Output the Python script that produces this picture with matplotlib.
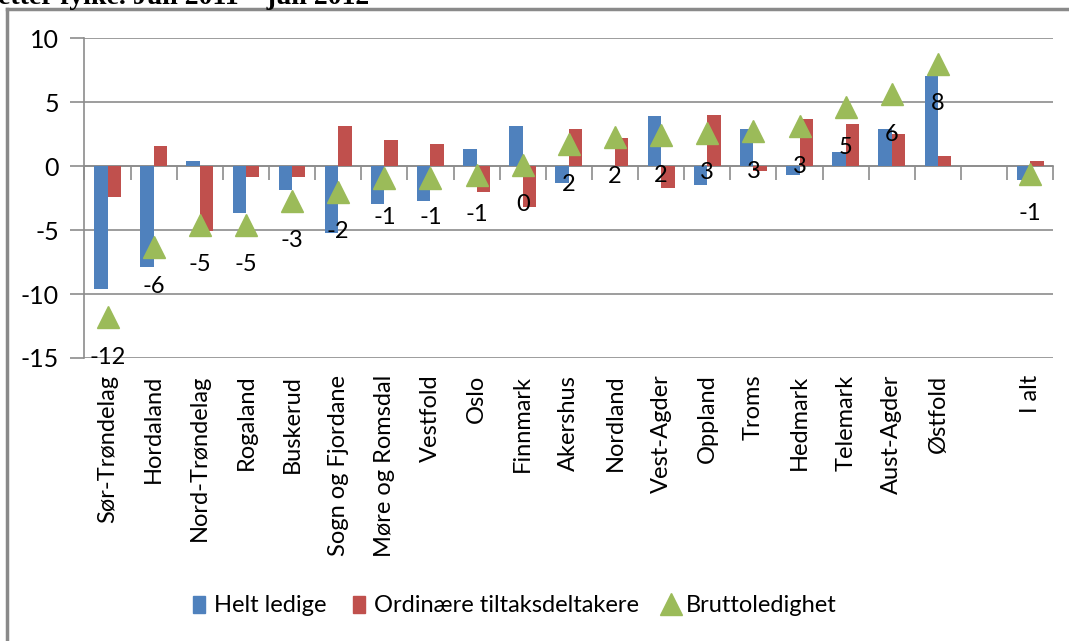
import matplotlib
matplotlib.use("Agg")
import matplotlib.pyplot as plt
from matplotlib.lines import Line2D
from matplotlib.patches import Patch
import numpy as np

plt.rcParams["font.family"] = ["Lato", "DejaVu Sans"]

fylker = ["Sør-Trøndelag", "Hordaland", "Nord-Trøndelag", "Rogaland", "Buskerud",
          "Sogn og Fjordane", "Møre og Romsdal", "Vestfold", "Oslo", "Finnmark",
          "Akershus", "Nordland", "Vest-Agder", "Oppland", "Troms", "Hedmark",
          "Telemark", "Aust-Agder", "Østfold", "", "I alt"]
helt_ledige = [-9.6, -7.9, 0.4, -3.7, -1.85, -5.2, -3.0, -2.7, 1.3, 3.1,
               -1.3, 0.0, 3.9, -1.45, 2.9, -0.7, 1.1, 2.9, 7.0, np.nan, -1.1]
tiltaksdeltakere = [-2.4, 1.6, -5.1, -0.85, -0.85, 3.1, 2.0, 1.7, -2.0, -3.2,
                    2.9, 2.2, -1.7, 4.0, -0.4, 3.7, 3.3, 2.5, 0.8, np.nan, 0.4]
bruttoledighet = [-11.8, -6.3, -4.6, -4.6, -2.7, -2.0, -0.9, -0.9, -0.7, 0.1,
                  1.7, 2.3, 2.4, 2.6, 2.7, 3.1, 4.6, 5.6, 8.0, np.nan, -0.6]

BLUE = "#4F81BD"
RED = "#C0504D"
GREEN = "#9BBB59"
GRID = "#8c8c8c"

fig = plt.figure(figsize=(10.69, 6.41), dpi=100)
ax = fig.add_axes([0.079, 0.4415, 0.9063, 0.4992])

x = np.arange(len(fylker))
w = 0.29
ax.bar(x - w / 2, helt_ledige, w, color=BLUE, zorder=3)
ax.bar(x + w / 2, tiltaksdeltakere, w, color=RED, zorder=3)
ax.plot(x, bruttoledighet, "^", color=GREEN, ms=16.5, mec=GREEN, zorder=4)

for xi, v in zip(x, bruttoledighet):
    if np.isnan(v):
        continue
    ax.annotate(f"{v:.0f}", (xi, v), xytext=(0, -40), textcoords="offset pixels",
                ha="center", va="center", fontsize=17, zorder=5)

ax.set_xlim(-0.5, len(fylker) - 0.5)
ax.set_ylim(-15, 10)
ax.set_yticks([-15, -10, -5, 0, 5, 10])
ax.set_yticklabels(["-15", "-10", "-5", "0", "5", "10"])
ax.yaxis.grid(True, color=GRID, lw=1.2, zorder=0)
ax.tick_params(axis="y", length=10, width=1.2, color=GRID, labelsize=18, pad=8.5)
ax.set_xticks(x)
ax.set_xticklabels(fylker, rotation=90, fontsize=17)
ax.tick_params(axis="x", length=0, pad=12)
for s in ["top", "right", "bottom"]:
    ax.spines[s].set_visible(False)
ax.spines["left"].set_color(GRID)
ax.spines["left"].set_linewidth(1.2)

# x-axis drawn at zero with ticks between categories
sec = ax.secondary_xaxis(0, transform=ax.transData)
sec.set_xticks(np.arange(len(fylker) + 1) - 0.5)
sec.set_xticklabels([])
sec.tick_params(length=10, width=1.2, color=GRID, direction="out")
sec.spines["bottom"].set_color(GRID)
sec.spines["bottom"].set_linewidth(1.2)

handles = [Patch(color=BLUE), Patch(color=RED),
           Line2D([], [], marker="^", ls="", color=GREEN, ms=16)]
fig.legend(handles, ["Helt ledige", "Ordinære tiltaksdeltakere", "Bruttoledighet"],
           loc="center", bbox_to_anchor=(515 / 1069, 1 - 606 / 641), ncol=3,
           frameon=False, fontsize=17, handlelength=0.5, handleheight=0.75,
           handletextpad=0.4, columnspacing=1.1)

# chart frame and clipped heading above it
fig.add_artist(Line2D([7 / 1069, 1.01], [1 - 9 / 641] * 2, color="#8a8a8a", lw=2.5))
fig.add_artist(Line2D([7 / 1069] * 2, [-0.01, 1 - 9 / 641], color="#8a8a8a", lw=2.5))
fig.text(-2 / 1069, 1 - 4 / 641, "etter fylke. Juli 2011 – juli 2012", family="Liberation Serif",
         weight="bold", fontsize=20, ha="left", va="baseline")

fig.savefig("out.png", dpi=100)
